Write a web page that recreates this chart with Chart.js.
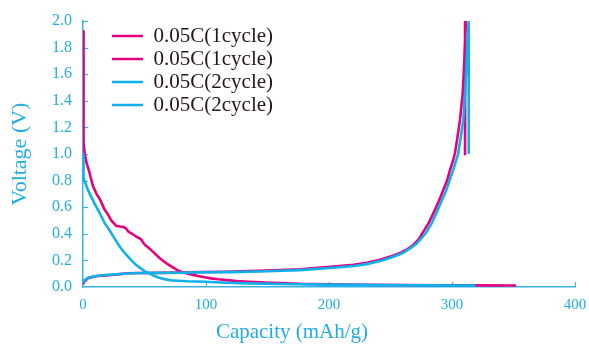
<!DOCTYPE html>
<html>
<head>
<meta charset="utf-8">
<script src="https://cdn.jsdelivr.net/npm/chart.js@4/dist/chart.umd.min.js"></script>
<style>
  html, body { margin: 0; padding: 0; background: #ffffff; }
  #wrap { width: 589px; height: 345px; }
</style>
</head>
<body>
<div id="wrap"><canvas id="c" width="589" height="345"></canvas></div>
<script>
// ---- Data ----
const seriesLabels = ['0.05C(1cycle)', '0.05C(1cycle)', '0.05C(2cycle)', '0.05C(2cycle)'];
const xTitle = 'Capacity (mAh/g)';
const yTitle = 'Voltage (V)';

// Cycle 1 discharge (magenta)
const c1DisCap = [0, 0.1, 0.8, 1.5, 3, 5, 8, 11, 14, 17.6, 20, 23, 27, 30, 32.5, 35, 37, 40, 43, 47, 50, 54, 58, 62, 66, 70, 74.5, 78, 83, 88, 93.5, 100, 104, 110, 116.5, 125, 135, 149, 160, 176, 200, 230, 260, 290, 320, 352];
const c1DisV   = [1.93, 1.35, 1.08, 1.0, 0.93, 0.87, 0.76, 0.70, 0.655, 0.58, 0.55, 0.50, 0.46, 0.455, 0.452, 0.44, 0.415, 0.40, 0.38, 0.36, 0.32, 0.29, 0.255, 0.22, 0.19, 0.165, 0.14, 0.12, 0.105, 0.095, 0.083, 0.072, 0.065, 0.058, 0.052, 0.045, 0.04, 0.033, 0.03, 0.024, 0.02, 0.017, 0.015, 0.013, 0.012, 0.011];

// Cycle 1 charge (magenta)
const c1ChgCap = [0, 1, 4, 8, 12, 18, 23, 30, 36.6, 45, 50, 60, 77, 95, 116.5, 122, 149, 176, 203.5, 220, 230.6, 241.5, 252, 257.7, 263, 268.5, 273, 276.7, 281, 284.8, 289, 292.9, 296, 298.4, 300.5, 302.4, 304.5, 306.5, 308.7, 309.8, 310.6, 311.4, 310.8, 310.6, 310.6];
const c1ChgV   = [0.02, 0.04, 0.065, 0.075, 0.083, 0.087, 0.09, 0.097, 0.103, 0.105, 0.105, 0.106, 0.108, 0.113, 0.115, 0.116, 0.123, 0.133, 0.153, 0.167, 0.183, 0.205, 0.235, 0.255, 0.28, 0.316, 0.36, 0.416, 0.48, 0.554, 0.64, 0.729, 0.8, 0.88, 0.94, 1.005, 1.13, 1.256, 1.456, 1.656, 1.857, 2.0, 2.0, 1.5, 0.99];

// Cycle 2 discharge (cyan)
const c2DisCap = [0, 0, 0.4, 0.8, 2, 4, 6, 8, 10, 12.2, 15, 17.6, 20, 23, 26, 29.8, 33, 36.6, 40, 43.3, 47, 50, 54, 58.3, 62, 66.4, 72, 77, 85, 99, 116.5, 135, 160, 200, 240, 280, 319];
const c2DisV   = [1.0, 0.9, 0.85, 0.82, 0.78, 0.73, 0.69, 0.655, 0.615, 0.58, 0.53, 0.48, 0.45, 0.405, 0.36, 0.305, 0.265, 0.228, 0.195, 0.165, 0.14, 0.12, 0.1, 0.083, 0.07, 0.058, 0.05, 0.047, 0.043, 0.04, 0.032, 0.027, 0.022, 0.018, 0.015, 0.012, 0.01];

// Cycle 2 charge (cyan)
const c2ChgCap = [0, 1, 4, 8, 12, 18, 23, 30, 40, 50, 60, 77, 95, 122, 149, 176, 203.5, 220, 230.6, 243, 253, 260, 266, 271, 275, 279, 283, 287, 291, 295, 298, 301, 303, 305, 307, 309.2, 310.6, 311.9, 312.8, 313.6, 313.6];
const c2ChgV   = [0.03, 0.05, 0.07, 0.078, 0.085, 0.09, 0.093, 0.098, 0.103, 0.105, 0.106, 0.107, 0.11, 0.112, 0.118, 0.127, 0.145, 0.158, 0.172, 0.2, 0.23, 0.255, 0.29, 0.325, 0.365, 0.41, 0.47, 0.55, 0.635, 0.72, 0.8, 0.88, 0.94, 1.0, 1.12, 1.256, 1.45, 1.7, 1.87, 2.0, 1.0];

// Axis settings
const xMin = 0, xMax = 400, xStep = 100;
const yMin = 0, yMax = 2.0, yStep = 0.2;

// ---- Styles ----
const MAGENTA = '#e4007f';
const CYAN_LINE = '#10b0ea';
const AXIS_CYAN = '#3ab2e6';
const TEXT_CYAN = '#22ace4';
const SERIF = "'Liberation Serif', 'Times New Roman', serif";

const toPts = (xs, ys) => xs.map((x, i) => ({ x: x, y: ys[i] }));

const innerTicks = {
  id: 'innerTicks',
  beforeDatasetsDraw(chart) {
    const { ctx, scales: { x, y } } = chart;
    ctx.save();
    ctx.strokeStyle = AXIS_CYAN;
    ctx.lineWidth = 1.2;
    y.ticks.forEach(t => {
      if (t.value === yMin) return;
      const py = Math.round(y.getPixelForValue(t.value)) + 0.5;
      ctx.beginPath(); ctx.moveTo(x.left, py); ctx.lineTo(x.left + 5, py); ctx.stroke();
    });
    x.ticks.forEach(t => {
      if (t.value === xMin) return;
      const px = Math.round(x.getPixelForValue(t.value)) + 0.5;
      ctx.beginPath(); ctx.moveTo(px, y.bottom); ctx.lineTo(px, y.bottom - 5); ctx.stroke();
    });
    ctx.restore();
  }
};

const legendPlace = {
  id: 'legendPlace',
  afterLayout(chart) {
    const lg = chart.legend;
    if (!lg) return;
    const w = lg.width, h = lg.height;
    lg.left = 110; lg.top = 23.5;
    lg.right = lg.left + w; lg.bottom = lg.top + h;
  }
};

const mk = (label, xs, ys, color, order) => ({
  label: label,
  data: toPts(xs, ys),
  borderColor: color,
  backgroundColor: color,
  borderWidth: 2.6,
  pointRadius: 0,
  tension: 0,
  fill: false,
  order: order
});

new Chart(document.getElementById('c'), {
  type: 'line',
  data: {
    datasets: [
      mk(seriesLabels[0], c1DisCap, c1DisV, MAGENTA, 2),
      mk(seriesLabels[1], c1ChgCap, c1ChgV, MAGENTA, 2),
      mk(seriesLabels[2], c2DisCap, c2DisV, CYAN_LINE, 1),
      mk(seriesLabels[3], c2ChgCap, c2ChgV, CYAN_LINE, 1)
    ]
  },
  options: {
    responsive: false,
    animation: false,
    layout: { padding: { top: 21, right: 14, left: 9, bottom: 0 } },
    plugins: {
      tooltip: { enabled: false },
      title: {
        display: true,
        position: 'bottom',
        text: xTitle,
        color: TEXT_CYAN,
        font: { family: SERIF, size: 21, weight: 'normal' },
        padding: { top: 4, bottom: 0 }
      },
      legend: {
        position: 'chartArea',
        align: 'start',
        labels: {
          usePointStyle: true,
          pointStyle: 'line',
          pointStyleWidth: 31,
          padding: 2,
          color: '#231815',
          font: { family: SERIF, size: 21 },
          sort: (a, b) => a.datasetIndex - b.datasetIndex
        }
      }
    },
    scales: {
      x: {
        type: 'linear',
        min: xMin, max: xMax,
        afterFit: s => { s.height = 28.8; s.paddingLeft = 0; s.paddingRight = 0; },
        ticks: { stepSize: xStep, color: TEXT_CYAN, padding: 9.5, font: { family: SERIF, size: 15 } },
        grid: { display: true, drawOnChartArea: false, drawTicks: false, color: AXIS_CYAN },
        border: { display: true, color: AXIS_CYAN, width: 1.5 },
        title: { display: false }
      },
      y: {
        type: 'linear',
        min: yMin, max: yMax,
        afterFit: s => { s.width = 74; s.paddingTop = 0; s.paddingBottom = 0; },
        ticks: { stepSize: yStep, color: TEXT_CYAN, padding: 11, font: { family: SERIF, size: 16 }, callback: v => Number(v).toFixed(1) },
        grid: { display: true, drawOnChartArea: false, drawTicks: false, color: AXIS_CYAN },
        border: { display: true, color: AXIS_CYAN, width: 1.5 },
        title: { display: true, text: yTitle, color: TEXT_CYAN, font: { family: SERIF, size: 22 }, padding: { top: -1.5, bottom: 4 } }
      }
    }
  },
  plugins: [innerTicks, legendPlace]
});
</script>
</body>
</html>
